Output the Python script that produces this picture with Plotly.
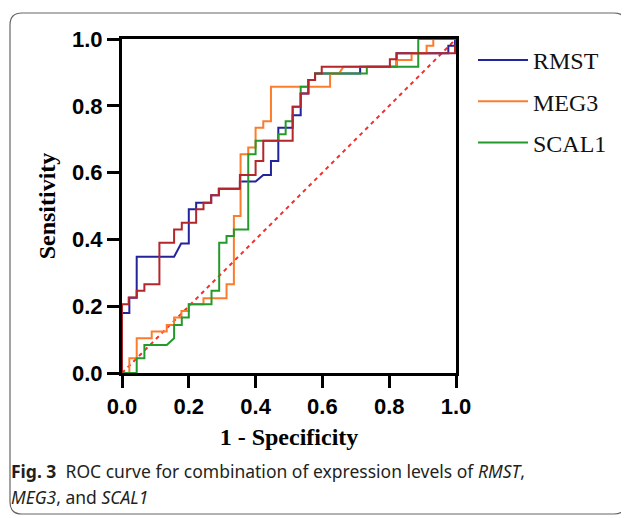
import plotly.graph_objects as go

# ROC curve vertices (1 - specificity, sensitivity)
rmst_fpr = [0, 0, 0.022, 0.022, 0.044, 0.044, 0.156, 0.177, 0.2, 0.2, 0.222, 0.222, 0.267, 0.267,
            0.29, 0.29, 0.353, 0.353, 0.4, 0.423, 0.446, 0.446, 0.468, 0.468, 0.511, 0.511, 0.535,
            0.535, 0.558, 0.558, 0.578, 0.578, 0.713, 0.713, 0.822, 0.822, 0.977, 0.977, 0.997, 0.997, 1]
rmst_tpr = [0, 0.18, 0.18, 0.225, 0.225, 0.348, 0.348, 0.388, 0.388, 0.49, 0.49, 0.51, 0.51, 0.532,
            0.532, 0.552, 0.552, 0.573, 0.573, 0.593, 0.593, 0.635, 0.635, 0.734, 0.734, 0.772, 0.772,
            0.837, 0.837, 0.877, 0.877, 0.897, 0.897, 0.917, 0.917, 0.957, 0.957, 0.98, 0.98, 1.0, 1.0]

meg3_fpr = [0, 0.022, 0.022, 0.044, 0.044, 0.089, 0.089, 0.134, 0.134, 0.156, 0.156, 0.178, 0.178,
            0.2, 0.2, 0.244, 0.244, 0.313, 0.313, 0.335, 0.335, 0.355, 0.355, 0.378, 0.378, 0.4, 0.4,
            0.423, 0.423, 0.446, 0.446, 0.623, 0.623, 0.65, 0.663, 0.822, 0.822, 0.867, 0.867, 0.912,
            0.912, 0.932, 0.932, 1]
meg3_tpr = [0, 0, 0.044, 0.044, 0.104, 0.104, 0.124, 0.124, 0.144, 0.144, 0.166, 0.166, 0.186,
            0.186, 0.206, 0.206, 0.224, 0.224, 0.266, 0.266, 0.47, 0.47, 0.655, 0.655, 0.675, 0.675,
            0.734, 0.734, 0.754, 0.754, 0.857, 0.857, 0.897, 0.897, 0.917, 0.917, 0.937, 0.937, 0.957,
            0.957, 0.98, 0.98, 1.0, 1.0]

scal1_fpr = [0, 0.044, 0.044, 0.067, 0.067, 0.134, 0.156, 0.156, 0.179, 0.179, 0.2, 0.2, 0.268,
             0.268, 0.291, 0.291, 0.313, 0.313, 0.335, 0.335, 0.378, 0.378, 0.4, 0.4, 0.468, 0.468,
             0.49, 0.49, 0.511, 0.511, 0.535, 0.535, 0.558, 0.558, 0.578, 0.578, 0.733, 0.733,
             0.887, 0.887, 1]
scal1_tpr = [0, 0, 0.044, 0.044, 0.084, 0.084, 0.104, 0.144, 0.144, 0.166, 0.166, 0.206, 0.206,
             0.246, 0.246, 0.39, 0.39, 0.41, 0.41, 0.43, 0.43, 0.655, 0.655, 0.695, 0.695, 0.715,
             0.715, 0.754, 0.754, 0.797, 0.797, 0.857, 0.857, 0.877, 0.877, 0.897, 0.897, 0.917,
             0.917, 1.0, 1.0]

comb_fpr = [0, 0, 0.02, 0.02, 0.044, 0.044, 0.067, 0.067, 0.112, 0.112, 0.156, 0.156, 0.179, 0.179,
            0.222, 0.222, 0.244, 0.244, 0.267, 0.267, 0.29, 0.29, 0.353, 0.353, 0.4, 0.4, 0.423,
            0.423, 0.511, 0.511, 0.535, 0.535, 0.558, 0.558, 0.578, 0.578, 0.598, 0.598, 0.802,
            0.802, 0.822, 0.822, 0.997, 0.997, 1, 1]
comb_tpr = [0, 0.206, 0.206, 0.226, 0.226, 0.246, 0.246, 0.266, 0.266, 0.39, 0.39, 0.43, 0.43, 0.45,
            0.45, 0.49, 0.49, 0.51, 0.51, 0.532, 0.532, 0.552, 0.552, 0.593, 0.593, 0.635, 0.635,
            0.695, 0.695, 0.797, 0.797, 0.837, 0.837, 0.877, 0.877, 0.897, 0.897, 0.917, 0.917,
            0.939, 0.939, 0.957, 0.957, 0.98, 0.98, 1.0]

ref_line = [0, 1]
tick_vals = [0, 0.2, 0.4, 0.6, 0.8, 1.0]
tick_text = ["0.0", "0.2", "0.4", "0.6", "0.8", "1.0"]

# the page body has an 8px margin, so the figure is laid out 8px smaller
OFF = 8
W, H = 629 - OFF, 518 - OFF
L, R, T, B = 122 - OFF, 456 - OFF, 39 - OFF, 373 - OFF


def px(xp):
    # reference-screen x pixel -> paper fraction
    return (xp - OFF - L) / (R - L)


def py(yp):
    return (B - (yp - OFF)) / (B - T)


fig = go.Figure()

fig.add_trace(go.Scatter(x=ref_line, y=ref_line, mode="lines", showlegend=False,
                         line=dict(color="#ff2a2a", width=2, dash="4px,4px")))
fig.add_trace(go.Scatter(x=rmst_fpr, y=rmst_tpr, mode="lines", name="RMST", legendgroup="a",
                         line=dict(color="#23239b", width=2)))
fig.add_trace(go.Scatter(x=meg3_fpr, y=meg3_tpr, mode="lines", name="MEG3", legendgroup="b",
                         line=dict(color="#fb7d2c", width=2)))
fig.add_trace(go.Scatter(x=scal1_fpr, y=scal1_tpr, mode="lines", name="SCAL1", legendgroup="c",
                         line=dict(color="#259a2c", width=2)))
fig.add_trace(go.Scatter(x=comb_fpr, y=comb_tpr, mode="lines", showlegend=False,
                         line=dict(color="#b3262c", width=2)))

axis_common = dict(
    range=[0, 1], tickvals=tick_vals, ticktext=tick_text,
    showline=True, linecolor="black", linewidth=3, mirror=True,
    ticks="outside", ticklen=12, tickwidth=3, tickcolor="black",
    showgrid=False, zeroline=False,
    tickfont=dict(family="Liberation Sans, Arial", size=22, color="black", weight="bold"),
)
title_font = dict(family="Liberation Serif, Times New Roman", size=24, color="black")

fig.update_layout(
    width=W, height=H,
    margin=dict(l=L, r=W - R, t=T, b=H - B),
    paper_bgcolor="white", plot_bgcolor="white",
    xaxis=dict(axis_common, title=dict(text="<b>1 - Specificity</b>", standoff=10, font=title_font)),
    yaxis=dict(axis_common, title=dict(text="<b>Sensitivity</b>", standoff=10, font=title_font)),
    legend=dict(x=px(473), y=py(38), xanchor="left", yanchor="top",
                font=dict(family="Liberation Serif, Times New Roman", size=24, color="#111"),
                itemwidth=50, tracegroupgap=7, bgcolor="rgba(0,0,0,0)"),
    showlegend=True,
)

# rounded frame around the figure
x0, x1, y0, y1, r = 10, 626, 13, 514, 12
path = (f"M {px(x0)},{py(y0 + r)} Q {px(x0)},{py(y0)} {px(x0 + r)},{py(y0)} "
        f"L {px(x1 - r)},{py(y0)} Q {px(x1)},{py(y0)} {px(x1)},{py(y0 + r)} "
        f"L {px(x1)},{py(y1 - r)} Q {px(x1)},{py(y1)} {px(x1 - r)},{py(y1)} "
        f"L {px(x0 + r)},{py(y1)} Q {px(x0)},{py(y1)} {px(x0)},{py(y1 - r)} Z")
fig.add_shape(type="path", path=path, xref="paper", yref="paper",
              line=dict(color="#666", width=1.2), layer="below")

cap_font = dict(family="Noto Sans", size=17.5, color="#231f20")
fig.add_annotation(x=px(9), y=py(471), xref="paper", yref="paper", xanchor="left", yanchor="middle",
                   showarrow=False, font=cap_font, align="left",
                   text="<b>Fig. 3</b>  ROC curve for combination of expression levels of <i>RMST</i>,")
fig.add_annotation(x=px(9), y=py(497), xref="paper", yref="paper", xanchor="left", yanchor="middle",
                   showarrow=False, font=cap_font, align="left",
                   text="<i>MEG3</i>, and <i>SCAL1</i>")

fig.write_html("out.html")
